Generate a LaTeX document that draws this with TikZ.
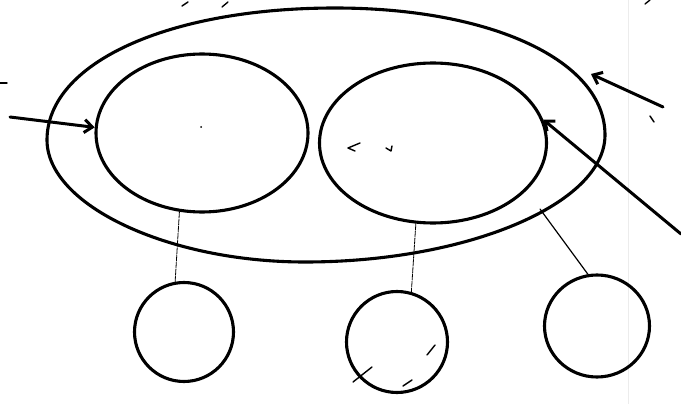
\documentclass[tikz,border=0pt]{standalone}
\usetikzlibrary{shapes.geometric,arrows.meta}
\begin{document}
\begin{tikzpicture}[x=1pt,y=-1pt,line join=round,line cap=round,
  ring/.style={ellipse,draw,line width=3.1pt,inner sep=0pt},
  bigring/.style={line width=3.1pt},
  link/.style={line width=0.8pt,dash pattern=on 6pt off 1.2pt},
  linksolid/.style={line width=1.2pt},
  pointer/.style={line width=3pt,-{Straight Barb[length=8pt,width=13pt]}},
  speck/.style={line width=1.4pt}]
\useasboundingbox (0,0) rectangle (681,404);
\fill[white] (0,0) rectangle (681,404);
\draw[gray!15,line width=0.8pt] (628,0) -- (628,404);
% outer hand-drawn ellipse
\draw[bigring] (47,140) .. controls (47,63) and (168,8) .. (335,8)
  .. controls (492,8) and (605,61) .. (605,135)
  .. controls (605,204) and (467,262) .. (305,262)
  .. controls (168,262) and (47,205) .. (47,140) -- cycle;
\coordinate (oR) at (540,209);
\coordinate (oTip) at (591,74);
% inner ellipses
\node[ring,minimum width=212pt,minimum height=158pt] (inL) at (202,133) {};
\node[ring,minimum width=227pt,minimum height=160pt] (inR) at (433,143) {};
% small circles
\node[ring,minimum width=99pt,minimum height=99pt] (cL) at (184,332) {};
\node[ring,minimum width=101pt,minimum height=101pt] (cM) at (397,342) {};
\node[ring,minimum width=105pt,minimum height=102pt] (cR) at (597,326) {};
% connectors
\draw[link] (inL.254) -- (cL.100);
\draw[link] (inR.258) -- (cM.74);
\draw[linksolid] (oR) -- (cR.100);
% arrows
\coordinate (tL) at (10,117);
\coordinate (tU) at (663,107);
\coordinate (tD) at (681,234);
\draw[pointer] (tL) -- (inL.177);
\draw[pointer] (tU) -- (oTip);
\draw[pointer] (tD) -- (inR.12);
% stray pen marks
\draw[speck] (182,6) -- (188,2);
\draw[speck] (222,7) -- (228,2);
\draw[speck] (645,4) -- (650,0);
\draw[speck] (0,83) -- (7,83);
\draw[speck] (650,116) -- (654,122);
\draw[speck] (360,143) -- (348,148) -- (355,151);
\draw[speck] (386,148) -- (391,151) -- (392,146);
\fill (201,127) circle (1pt);
\draw[speck] (353,382) -- (372,367);
\draw[speck] (427,355) -- (435,345);
\draw[speck] (403,386) -- (412,380);
\end{tikzpicture}
\end{document}
